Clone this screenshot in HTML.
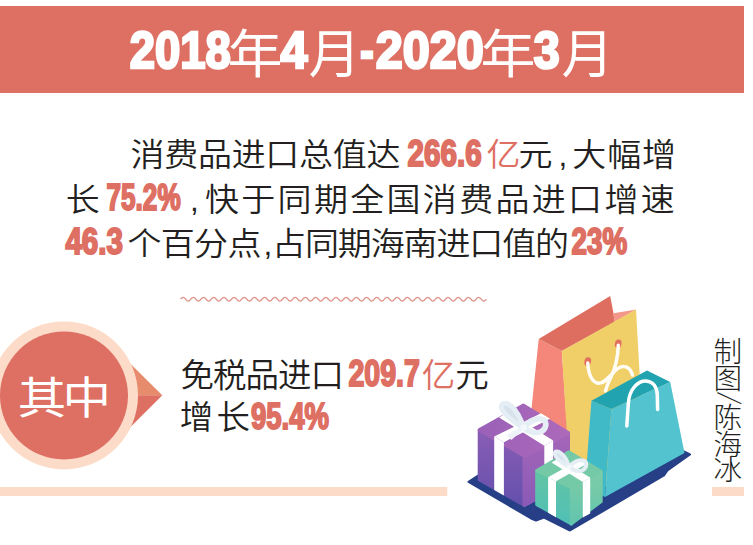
<!DOCTYPE html>
<html lang="zh-CN">
<head>
<meta charset="utf-8">
<title>2018年4月-2020年3月 消费品进口</title>
<style>
  html, body { margin: 0; padding: 0; background: #ffffff; }
  body { width: 753px; height: 545px; overflow: hidden; }
  svg { display: block; }
  .cjk   { font-family: "Liberation Sans", "Noto Sans CJK SC", sans-serif; }
  .body  { font-weight: 350; font-size: 31.5px; fill: #231f20; }
  .num   { font-family: "Liberation Sans", "Noto Sans CJK SC", sans-serif; font-weight: 700; fill: #de6f63;
           stroke: #de6f63; stroke-width: 2px; stroke-linejoin: miter; paint-order: stroke fill; }
  .tnum  { font-family: "Liberation Sans", "Noto Sans CJK SC", sans-serif; font-weight: 700; fill: #ffffff;
           stroke: #ffffff; stroke-width: 2.6px; stroke-linejoin: miter; paint-order: stroke fill; }
  .tcjk  { font-weight: 400; fill: #ffffff; font-size: 52px; }
  .red   { fill: #de6f63; }
</style>
</head>
<body>
<svg width="753" height="545" viewBox="0 0 753 545">

  <!-- ===== title banner ===== -->
  <rect x="0" y="6" width="744" height="87" fill="#de6f63"/>
  <g id="title">
    <text class="tnum" x="129.8" y="67.9" font-size="51.5" textLength="101" lengthAdjust="spacingAndGlyphs">2018</text>
    <text class="cjk tcjk" x="227.6" y="72.6" textLength="55" lengthAdjust="spacingAndGlyphs">年</text>
    <text class="tnum" x="280.6" y="67.9" font-size="51.5" textLength="27" lengthAdjust="spacingAndGlyphs">4</text>
    <text class="cjk tcjk" x="308.5" y="72.8">月</text>
    <text class="tnum" x="360.2" y="67.9" font-size="51.5" textLength="13.5" lengthAdjust="spacingAndGlyphs">-</text>
    <text class="tnum" x="375.8" y="67.9" font-size="51.5" textLength="108" lengthAdjust="spacingAndGlyphs">2020</text>
    <text class="cjk tcjk" x="480.6" y="72.6" textLength="55" lengthAdjust="spacingAndGlyphs">年</text>
    <text class="tnum" x="533.8" y="67.9" font-size="51.5" textLength="26" lengthAdjust="spacingAndGlyphs">3</text>
    <text class="cjk tcjk" x="561.5" y="72.8">月</text>
  </g>

  <!-- ===== body paragraph ===== -->
  <g id="para">
    <text class="cjk body" transform="translate(130.5 166.2) scale(1.08 1)" letter-spacing="-0.27">消费品进口总值达</text>
    <text class="num" x="407.6" y="165.5" font-size="36" textLength="74.0" lengthAdjust="spacingAndGlyphs">266.6</text>
    <text class="cjk body red" transform="translate(486.5 166.2) scale(1.08 1)">亿</text>
    <text class="cjk body" transform="translate(518.5 166.2) scale(1.08 1)">元</text>
    <text class="cjk body" transform="translate(558.5 166.2) scale(1 1)">,</text>
    <text class="cjk body" transform="translate(572.3 166.2) scale(1.08 1)" letter-spacing="0.77">大幅增</text>
    <text class="cjk body" transform="translate(65.7 211.0) scale(1.08 1)">长</text>
    <text class="num" x="106.6" y="210.3" font-size="36" textLength="74.0" lengthAdjust="spacingAndGlyphs">75.2%</text>
    <text class="cjk body" transform="translate(190 211.0) scale(1 1)">,</text>
    <text class="cjk body" transform="translate(205 211.0) scale(1.08 1)" letter-spacing="2.14">快于同期全国消费品进口增速</text>
    <text class="num" x="65.4" y="254.3" font-size="36" textLength="57.5" lengthAdjust="spacingAndGlyphs">46.3</text>
    <text class="cjk body" transform="translate(127.5 255.0) scale(1.08 1)" letter-spacing="-0.65">个百分点</text>
    <text class="cjk body" transform="translate(263.5 255.0) scale(1 1)">,</text>
    <text class="cjk body" transform="translate(272.0 255.0) scale(1.08 1)" letter-spacing="-1.04">占同期海南进口值的</text>
    <text class="num" x="571.6" y="254.3" font-size="36" textLength="55.5" lengthAdjust="spacingAndGlyphs">23%</text>
  </g>

  <!-- ===== wavy divider ===== -->
  <path id="wave" fill="none" stroke="#de9489" stroke-width="1.3" d="M180.6 299.2 Q183.15 295.40 185.69 299.2 Q188.24 303.00 190.79 299.2 Q193.34 295.40 195.88 299.2 Q198.43 303.00 200.98 299.2 Q203.53 295.40 206.07 299.2 Q208.62 303.00 211.17 299.2 Q213.72 295.40 216.26 299.2 Q218.81 303.00 221.36 299.2 Q223.91 295.40 226.45 299.2 Q229.00 303.00 231.55 299.2 Q234.10 295.40 236.64 299.2 Q239.19 303.00 241.74 299.2 Q244.29 295.40 246.83 299.2 Q249.38 303.00 251.93 299.2 Q254.48 295.40 257.02 299.2 Q259.57 303.00 262.12 299.2 Q264.67 295.40 267.22 299.2 Q269.76 303.00 272.31 299.2 Q274.86 295.40 277.41 299.2 Q279.95 303.00 282.50 299.2 Q285.05 295.40 287.60 299.2 Q290.14 303.00 292.69 299.2 Q295.24 295.40 297.79 299.2 Q300.33 303.00 302.88 299.2 Q305.43 295.40 307.98 299.2 Q310.52 303.00 313.07 299.2 Q315.62 295.40 318.17 299.2 Q320.71 303.00 323.26 299.2 Q325.81 295.40 328.36 299.2 Q330.90 303.00 333.45 299.2 Q336.00 295.40 338.55 299.2 Q341.09 303.00 343.64 299.2 Q346.19 295.40 348.74 299.2 Q351.28 303.00 353.83 299.2 Q356.38 295.40 358.93 299.2 Q361.47 303.00 364.02 299.2 Q366.57 295.40 369.12 299.2 Q371.66 303.00 374.21 299.2 Q376.76 295.40 379.31 299.2 Q381.85 303.00 384.40 299.2 Q386.95 295.40 389.50 299.2 Q392.04 303.00 394.59 299.2 Q397.14 295.40 399.69 299.2 Q402.23 303.00 404.78 299.2 Q407.33 295.40 409.88 299.2 Q412.42 303.00 414.97 299.2 Q417.52 295.40 420.06 299.2 Q422.61 303.00 425.16 299.2 Q427.71 295.40 430.25 299.2 Q432.80 303.00 435.35 299.2 Q437.90 295.40 440.44 299.2 Q442.99 303.00 445.54 299.2 Q448.09 295.40 450.63 299.2 Q453.18 303.00 455.73 299.2 Q458.28 295.40 460.82 299.2 Q463.37 303.00 465.92 299.2 Q468.47 295.40 471.01 299.2 Q473.56 303.00 476.11 299.2 Q478.66 295.40 481.20 299.2 Q483.75 303.00 486.30 299.2"/>

  <!-- ===== bottom bars ===== -->
  <rect x="0" y="487" width="447.3" height="9" fill="#fcdcc9"/>
  <rect x="712" y="487" width="32" height="9" fill="#fcdcc9"/>

  <!-- ===== badge ===== -->
  <g id="badge">
    <polygon points="118,351.4 162.3,395.2 118,395.2" fill="#e68c6c"/>
    <polygon points="118,395.2 162.3,395.2 118,439.4" fill="#de6f63"/>
    <circle cx="64" cy="395.4" r="74" fill="#fcdcc9"/>
    <circle cx="64" cy="395.4" r="64" fill="#de6f63"/>
    <text class="cjk" transform="translate(17.8 414) scale(1.09 1)" font-size="44.5" font-weight="400" fill="#ffffff" letter-spacing="-3.5">其中</text>
  </g>

  <!-- ===== lower text ===== -->
  <g id="lower">
    <text class="cjk body" style="font-size:33.5px" x="180.5" y="387" letter-spacing="-1.0">免税品进口</text>
    <text class="num" x="348.4" y="386.2" font-size="37.2" textLength="71.5" lengthAdjust="spacingAndGlyphs">209.7</text>
    <text class="cjk body red" style="font-size:33.5px" x="421.8" y="387">亿</text>
    <text class="cjk body" style="font-size:33.5px" x="455.3" y="387">元</text>
    <text class="cjk body" style="font-size:33.5px" x="179.8" y="429" letter-spacing="3.2">增长</text>
    <text class="num" x="251" y="429" font-size="37.2" textLength="78" lengthAdjust="spacingAndGlyphs">95.4%</text>
  </g>

  <!-- ===== credit (vertical) ===== -->
  <g id="credit" class="cjk" font-size="28.6" font-weight="300" fill="#231f20">
    <text x="713.6" y="361.8">制</text>
    <text x="713.6" y="388.6">图</text>
    <text x="713.6" y="427.8">陈</text>
    <text x="713.6" y="454.6">海</text>
    <text x="713.6" y="480.4">冰</text>
    <text font-family="'Noto Sans CJK SC', sans-serif" font-weight="200" font-size="26" text-anchor="middle" transform="translate(730.3 398.2) rotate(96)" y="9">/</text>
  </g>

  <!-- ===== illustration ===== -->
  <g id="gifts">
    <defs>
      <linearGradient id="gPL" x1="0" y1="0" x2="0" y2="1"><stop offset="0" stop-color="#8a5db5"/><stop offset="1" stop-color="#6450ad"/></linearGradient>
      <linearGradient id="gPR" x1="0" y1="0" x2="0" y2="1"><stop offset="0" stop-color="#a566b8"/><stop offset="1" stop-color="#8a5ab6"/></linearGradient>
      <linearGradient id="gPT" x1="0" y1="0" x2="1" y2="0"><stop offset="0" stop-color="#9a61b8"/><stop offset="1" stop-color="#ad69ba"/></linearGradient>
      <linearGradient id="gGL" x1="0" y1="0" x2="0" y2="1"><stop offset="0" stop-color="#63c4a4"/><stop offset="1" stop-color="#4fc0b6"/></linearGradient>
      <linearGradient id="gGR" x1="0" y1="0" x2="0" y2="1"><stop offset="0" stop-color="#7dcca6"/><stop offset="1" stop-color="#62c5ad"/></linearGradient>
    </defs>

    <!-- platform -->
    <polygon points="468.5,481.8 588,404 690,454.5 667.5,470.5 664,475.5 570,530.5 544,517.5 536,520.5 531,518.5" fill="#263f86" stroke="#263f86" stroke-width="2" stroke-linejoin="round"/>

    <!-- tall bag -->
    <polygon points="538.7,338.9 561.8,351 570,470 526.7,455" fill="#f4877a"/>
    <polygon points="538.7,338.9 610.2,296 613.5,313.2 614.5,322 561.8,351" fill="#de6f60"/>
    <polygon points="613.5,313.2 636,309.6 614.5,322" fill="#f4978b"/>
    <polygon points="561.8,351 636,309.6 645,470 571,500" fill="#f0cf68"/>
    <ellipse cx="587.7" cy="361.6" rx="3.3" ry="4.4" fill="#e2705f" transform="rotate(12 587.7 361.6)"/>
    <ellipse cx="618.2" cy="343.8" rx="3.3" ry="4.4" fill="#e2705f" transform="rotate(12 618.2 343.8)"/>
    <g fill="none" stroke="#fffdf6" stroke-width="3.5" stroke-linecap="round">
      <path d="M587.8 363 C588.3 372 591 381.5 598 383.2 C604 384.5 611 374.5 617 369 C623 364 630 366.5 632.5 375"/>
      <path d="M618.3 345.2 C618 356 615.5 368 610.5 378 C608 383 606.5 386.5 605.5 391"/>
    </g>

    <!-- teal bag -->
    <polygon points="591.4,400.7 611.4,408.9 605,497 585,487" fill="#3fbac6"/>
    <polygon points="611.4,408.9 670.2,382 684.5,453 605,497" fill="#52c3cf"/>
    <polygon points="591.4,400.7 647,370.6 670.2,382 611.4,408.9" fill="#22a3b0"/>
    <path d="M626.8 426 L628.3 404 C629 388 639 380.6 646 381 C653 381.4 657 387 657.3 395 L657.6 409.5" fill="none" stroke="#ffffff" stroke-width="3.5" stroke-linecap="round"/>

    <!-- purple box -->
    <g stroke-linejoin="round" stroke-width="4">
      <polygon points="479.7,430.5 524.5,456.5 524.5,505 479.7,479.5" fill="url(#gPL)" stroke="url(#gPL)"/>
      <polygon points="524.5,456.5 568,433.3 568,482 524.5,505" fill="url(#gPR)" stroke="url(#gPR)"/>
      <polygon points="479.7,430 523.5,405.6 568,433 524.5,455.8" fill="url(#gPT)" stroke="url(#gPT)"/>
    </g>
    <polygon points="494.2,436.6 503.9,442.2 503.9,495.5 494.2,489.9" fill="#ffffff"/>
    <polygon points="544.3,445.7 553.1,440.6 553.1,492 544.3,497" fill="#ffffff"/>
    <polygon points="494.2,436.6 503.9,442.2 550,418.8 541,413.2" fill="#ffffff"/>
    <polygon points="544.3,445.7 553.1,440.6 508,412 499,417.5" fill="#ffffff"/>
    <g stroke="#e6eef5" stroke-linejoin="round" stroke-linecap="round">
      <path d="M523.5 428 C515 423 503 414 501.5 407.5 C500.5 403 506 402 510.5 405.5 C516 410 521 419 523.5 428 Z" fill="#d5e2ec" stroke-width="5"/>
      <path d="M524 428 C529 420.5 538.5 416.8 543.5 419.8 C547.5 422.8 546 429 541.5 431.5 C536 434 529 432.5 524 428 Z" fill="none" stroke-width="5.6"/>
    </g>
    <path d="M523.5 426 C518 428.5 511 432 506.5 435.5 L511.5 440 C515.5 436 520.5 431.5 525 429 Z" fill="#eef3f8"/>
    <circle cx="523.8" cy="427.6" r="3" fill="#f4f8fb"/>

    <!-- green box -->
    <g stroke-linejoin="round" stroke-width="3">
      <polygon points="536.7,471 571.2,488.5 571.2,524 536.7,504.6" fill="url(#gGL)" stroke="url(#gGL)"/>
      <polygon points="571.2,488.5 601.2,471.6 601.2,501.6 571.2,524" fill="url(#gGR)" stroke="url(#gGR)"/>
      <polygon points="536.7,470.6 568.8,451.8 601.2,471.2 571.2,487.6" fill="#74c9a6" stroke="#74c9a6"/>
    </g>
    <polygon points="548.1,477.2 556,481.3 556,517.3 548.1,512.7" fill="#ffffff"/>
    <polygon points="582.8,482.1 590.2,477.6 590.2,513.5 582.8,517.6" fill="#ffffff"/>
    <polygon points="548.1,477.2 556,481.3 588,463.3 580.5,459" fill="#ffffff"/>
    <polygon points="582.8,482.1 590.2,477.6 558.5,458.6 551.5,462.6" fill="#ffffff"/>
    <g stroke="#e6eef5" stroke-linejoin="round" stroke-linecap="round">
      <path d="M569 467 C563 463.5 555 457.5 554.5 453.5 C554.3 451 558 450.8 561 453.2 C565 456.5 568 461.5 569 467 Z" fill="#d5e2ec" stroke-width="3.8"/>
      <path d="M569.5 467 C573 461.5 580 459 584.5 461 C587.5 463 586.5 468.5 582.5 470.3 C578 472 573 470.3 569.5 467 Z" fill="none" stroke-width="4"/>
    </g>
    <circle cx="569.3" cy="466.8" r="2.4" fill="#f4f8fb"/>
  </g>
</svg>

</body>
</html>
